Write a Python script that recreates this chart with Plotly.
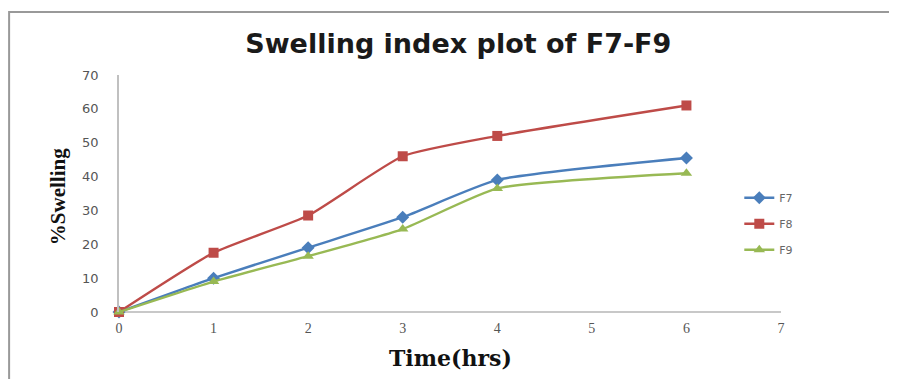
import plotly.graph_objects as go

time_hrs = [0, 1, 2, 3, 4, 6]
f7 = [0, 10, 19, 28, 39, 45.5]
f8 = [0, 17.5, 28.5, 46, 52, 61]
f9 = [0, 9, 16.5, 24.5, 36.5, 41]
x_ticks = [0, 1, 2, 3, 4, 5, 6, 7]
y_ticks = [0, 10, 20, 30, 40, 50, 60, 70]

series = [
    ("F7", f7, "#4A7EBB", "diamond", 10),
    ("F8", f8, "#BE4B48", "square", 10),
    ("F9", f9, "#98B954", "triangle-up", 10),
]

fig = go.Figure()
for name, vals, color, sym, size in series:
    fig.add_trace(go.Scatter(
        x=time_hrs, y=vals, name=name, mode="lines+markers",
        line=dict(color=color, width=2.4, shape="spline", smoothing=0.5),
        marker=dict(symbol=sym, size=size, color=color),
        legendgroup=name, cliponaxis=False,
    ))

fig.update_layout(
    width=897, height=379,
    margin=dict(l=111, r=124, t=67, b=75),
    paper_bgcolor="white", plot_bgcolor="white",
    title=dict(text="<b>Swelling index plot of F7-F9</b>", x=0.502, xanchor="center",
               y=0.905, yanchor="middle",
               font=dict(family="DejaVu Sans", size=27, color="#1a1a1a")),
    showlegend=True,
    legend=dict(x=0.937, y=0.543, xanchor="left", yanchor="top",
                font=dict(family="DejaVu Sans", size=11, color="#666"),
                tracegroupgap=7, traceorder="grouped", itemwidth=30,
                bgcolor="rgba(0,0,0,0)"),
    xaxis=dict(range=[0, 7], tickvals=x_ticks, showgrid=False, zeroline=False,
               showline=False, ticks="", ticklabelstandoff=6,
               tickfont=dict(family="Liberation Serif", size=14, color="#555")),
    yaxis=dict(range=[0, 70], tickvals=y_ticks, showgrid=False, zeroline=False,
               showline=True, linecolor="#C0C0C0", linewidth=1.5, ticks="",
               ticklabelstandoff=16,
               tickfont=dict(family="DejaVu Sans", size=13, color="#555")),
    annotations=[
        dict(text="<b>Time(hrs)</b>", xref="paper", yref="paper", x=0.5, y=-0.194,
             xanchor="center", yanchor="middle", showarrow=False,
             font=dict(family="DejaVu Serif", size=22, color="#111")),
        dict(text="<b>%Swelling</b>", xref="paper", yref="paper", x=-0.092, y=0.485,
             xanchor="center", yanchor="middle", showarrow=False, textangle=-90,
             font=dict(family="Liberation Serif", size=21, color="#111")),
    ],
    shapes=[
        dict(type="line", xref="paper", yref="paper", x0=0, x1=1, y0=0, y1=0,
             line=dict(color="#C8C8C8", width=2), layer="below"),
        dict(type="path", xref="paper", yref="paper",
             path="M -0.166,-0.5 L -0.166,1.266 L 1.3,1.266",
             line=dict(color="#999999", width=2)),
    ],
)

fig.write_html("out.html")
